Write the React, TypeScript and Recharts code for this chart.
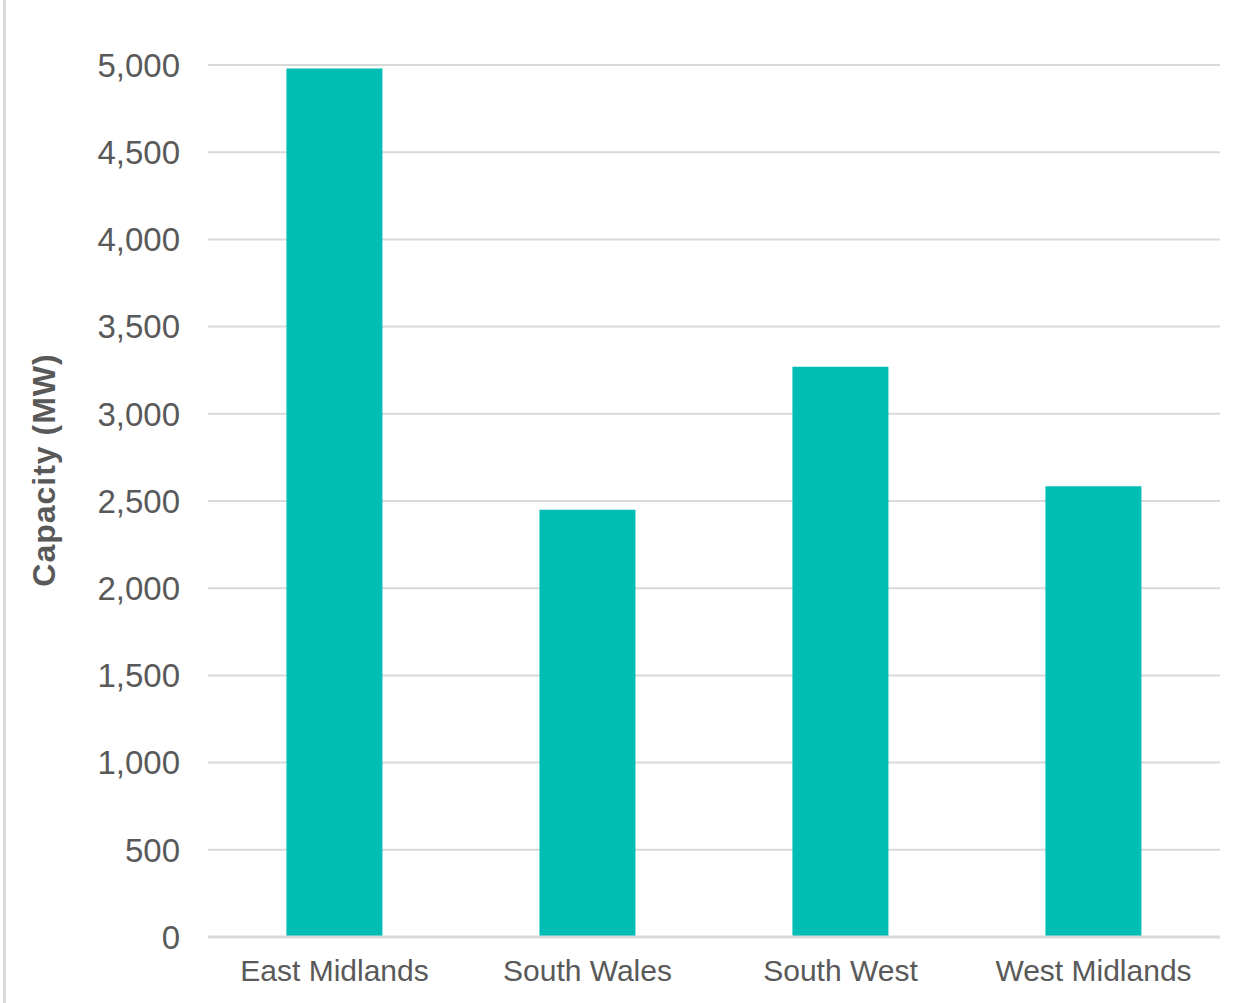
import { BarChart, Bar, XAxis, YAxis, CartesianGrid } from 'recharts'

const regions = ['East Midlands', 'South Wales', 'South West', 'West Midlands']
const capacityMW = [4980, 2450, 3270, 2585]
const yTicks = [0, 500, 1000, 1500, 2000, 2500, 3000, 3500, 4000, 4500, 5000]

const data = regions.map((region, i) => ({ region, capacity: capacityMW[i] }))

const TEXT = '#595959'
const GRID = '#d9d9d9'

export default function App() {
  return (
    <div style={{
      position: 'absolute', left: 0, top: 0, width: 1249, height: 1003,
      background: '#fff', fontFamily: 'Arial, "Liberation Sans", sans-serif',
    }}>
      <div style={{ position: 'absolute', left: 3, top: 0, width: 3, height: 1003, background: GRID }} />
      <BarChart
        width={1249}
        height={1003}
        data={data}
        margin={{ top: 65, right: 29, bottom: 0, left: 0 }}
        barCategoryGap="31%"
      >
        <CartesianGrid vertical={false} stroke={GRID} strokeWidth={2} />
        <XAxis
          dataKey="region"
          height={66}
          axisLine={{ stroke: GRID, strokeWidth: 3 }}
          tickLine={false}
          tickSize={0}
          tickMargin={23}
          tick={{ fill: TEXT, fontSize: 30 }}
        />
        <YAxis
          width={208}
          domain={[0, 5000]}
          ticks={yTicks}
          axisLine={false}
          tickLine={false}
          tickSize={0}
          tickMargin={28}
          tickFormatter={(v: number) => v.toLocaleString('en-US')}
          tick={{ fill: TEXT, fontSize: 33 }}
          label={{
            content: ({ viewBox }: any) => (
              <text
                x={44}
                y={viewBox.y + viewBox.height / 2 - 31}
                transform={`rotate(-90, 44, ${viewBox.y + viewBox.height / 2 - 31})`}
                textAnchor="middle"
                dominantBaseline="central"
                fill={TEXT}
                fontSize={32}
                letterSpacing={1}
                fontWeight="bold"
              >
                Capacity (MW)
              </text>
            ),
          }}
        />
        <Bar dataKey="capacity" fill="#00BEB4" isAnimationActive={false} />
      </BarChart>
    </div>
  )
}
